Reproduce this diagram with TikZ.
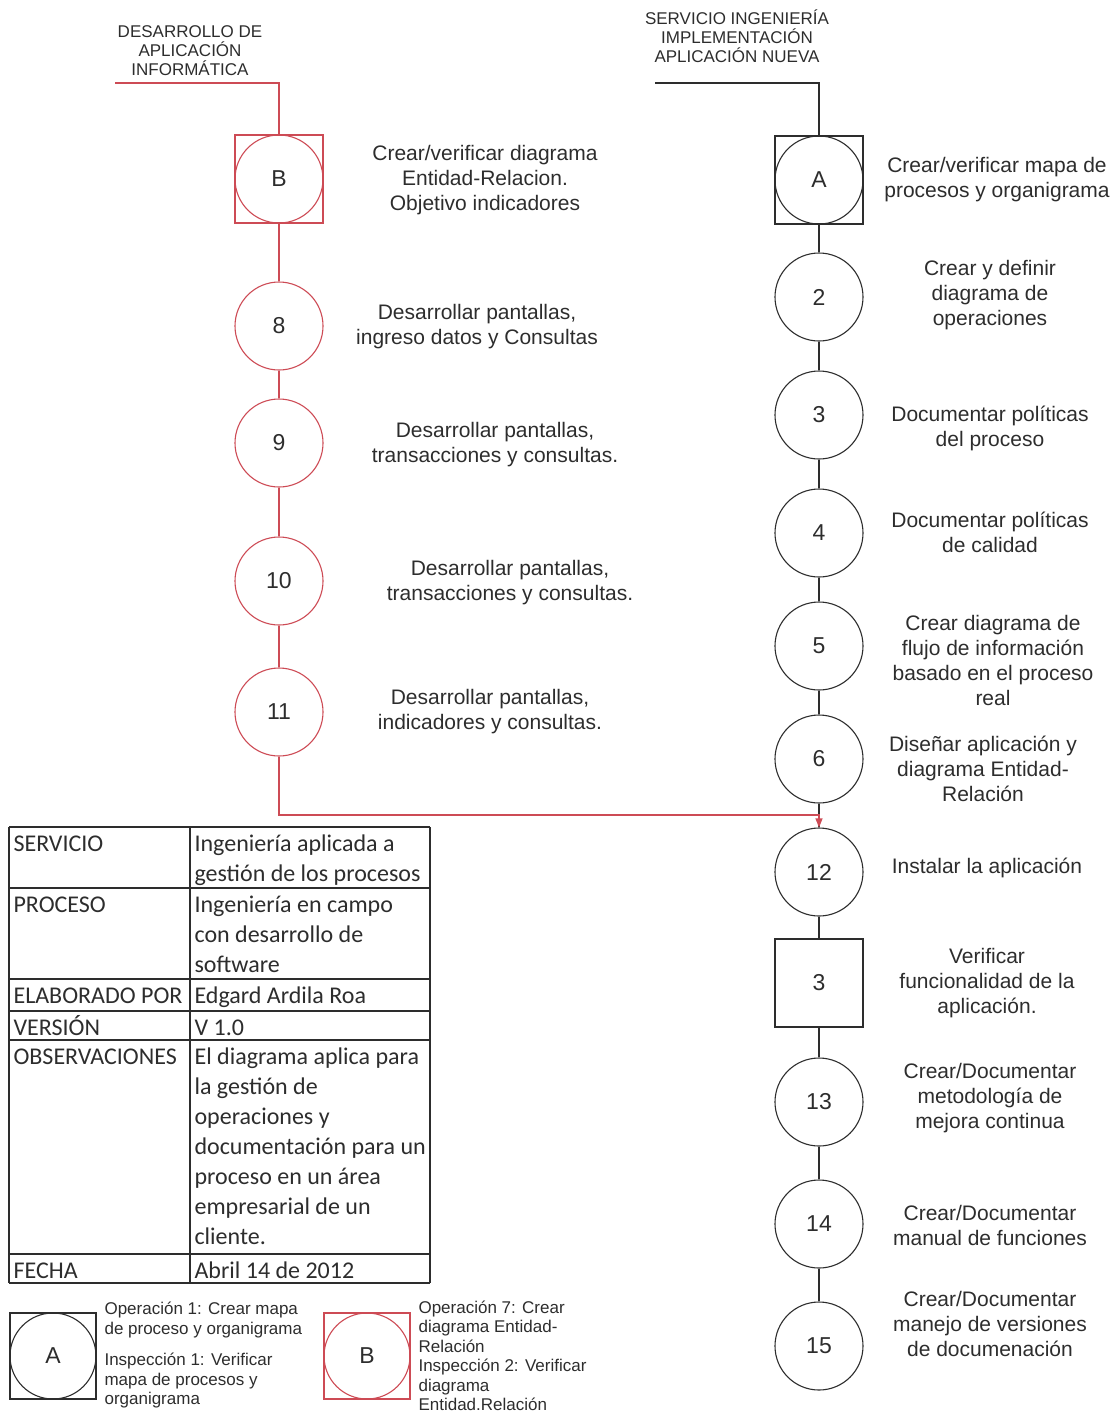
\documentclass[tikz,border=0pt]{standalone}
\usepackage{fontspec}
\setmainfont{Liberation Sans}
\newfontfamily\tablafont{Carlito}
\usetikzlibrary{arrows.meta, positioning}
\definecolor{LineaRoja}{RGB}{205,75,85}
\definecolor{LineaGris}{RGB}{45,45,45}

\begin{document}
\begin{tikzpicture}[x=1pt, y=-1pt, line width=1.1pt,
	oper/.style={circle, draw=#1, minimum size=88pt, inner sep=0pt,
		font=\fontsize{23}{26}\selectfont, text=LineaGris},
	insp/.style={rectangle, draw=#1, minimum size=88pt, inner sep=0pt,
		font=\fontsize{23}{26}\selectfont, text=LineaGris},
	texto/.style={align=center, font=\fontsize{21}{25}\selectfont, text=LineaGris},
	titulo/.style={align=center, font=\fontsize{17}{19}\selectfont, text=LineaGris},
	nota/.style={align=left, anchor=west, inner sep=0pt,
		font=\fontsize{17}{19.5}\selectfont, text=LineaGris},
	celda/.style={align=left, anchor=north west, inner xsep=3pt, inner ysep=0pt,
		font=\tablafont\fontsize{24}{30}\selectfont, text=LineaGris}]
	\useasboundingbox (0,0) rectangle (1114,1414);

	% columna izquierda: desarrollo de la aplicacion
	\node[titulo] (tit-izq) at (190,51) {DESARROLLO DE\\APLICACIÓN\\INFORMÁTICA};
	\coordinate (ini-izq) at (115,83);
	\node[insp=LineaRoja] (cuadB) at (279,179) {};
	\node[oper=LineaRoja] (B) at (279,179) {B};
	\foreach \n/\y in {8/326, 9/443, 10/581, 11/712}
		\node[oper=LineaRoja] (op\n) at (279,\y) {\n};
	\draw[LineaRoja] (ini-izq) -| (cuadB.north);
	\draw[LineaRoja] (cuadB) -- (op8) -- (op9) -- (op10) -- (op11);

	\node[texto] (txtB) at (485,180) {Crear/verificar diagrama\\Entidad-Relacion.\\Objetivo indicadores};
	\node[texto] (txt8) at (477,327) {Desarrollar pantallas,\\ingreso datos y Consultas};
	\node[texto] (txt9) at (495,445) {Desarrollar pantallas,\\transacciones y consultas.};
	\node[texto] (txt10) at (510,583) {Desarrollar pantallas,\\transacciones y consultas.};
	\node[texto] (txt11) at (490,712) {Desarrollar pantallas,\\indicadores y consultas.};

	% columna derecha: servicio de ingenieria
	\node[titulo] (tit-der) at (737,36) {SERVICIO INGENIERÍA\\IMPLEMENTACIÓN\\APLICACIÓN NUEVA};
	\coordinate (ini-der) at (655,83);
	\node[insp=LineaGris] (cuadA) at (819,180) {};
	\node[oper=LineaGris] (A) at (819,180) {A};
	\foreach \n/\y in {2/297, 3/415, 4/533, 5/646, 6/759, 12/872, 13/1102, 14/1224, 15/1346}
		\node[oper=LineaGris] (op\n) at (819,\y) {\n};
	\node[insp=LineaGris] (insp3) at (819,983) {3};
	\draw[LineaGris] (ini-der) -| (cuadA.north);
	\draw[LineaGris] (cuadA) -- (op2) -- (op3) -- (op4) -- (op5) -- (op6) -- (op12)
		-- (insp3) -- (op13) -- (op14) -- (op15);

	\node[texto] (txtA) at (997,180) {Crear/verificar mapa de\\procesos y organigrama};
	\node[texto] (txt2) at (990,295) {Crear y definir\\diagrama de\\operaciones};
	\node[texto] (txt3) at (990,428) {Documentar políticas\\del proceso};
	\node[texto] (txt4) at (990,532) {Documentar políticas\\de calidad};
	\node[texto] (txt5) at (993,660) {Crear diagrama de\\flujo de información\\basado en el proceso\\real};
	\node[texto] (txt6) at (983,769) {Diseñar aplicación y\\diagrama Entidad-\\Relación};
	\node[texto] (txt12) at (987,868) {Instalar la aplicación};
	\node[texto] (txti3) at (987,983) {Verificar\\funcionalidad de la\\aplicación.};
	\node[texto] (txt13) at (990,1098) {Crear/Documentar\\metodología de\\mejora continua};
	\node[texto] (txt14) at (990,1225) {Crear/Documentar\\manual de funciones};
	\node[texto] (txt15) at (990,1324) {Crear/Documentar\\manejo de versiones\\de documenación};

	% union de las dos columnas
	\coordinate (codo) at (819,815);
	\draw[LineaRoja, -{Triangle[length=9pt, width=7pt]}] (op11) |- (codo) -- (op12);

	% tabla de datos
	\foreach \y in {827, 888, 979, 1011, 1040, 1254, 1283}
		\draw[LineaGris, line width=1.3pt] (9,\y) -- (430,\y);
	\foreach \x in {9, 190, 430}
		\draw[LineaGris, line width=1.3pt] (\x,827) -- (\x,1283);
	\foreach \y/\etiq/\valor in {
			827/SERVICIO/{Ingeniería aplicada a\\gestión de los procesos},
			888/PROCESO/{Ingeniería en campo\\con desarrollo de\\software},
			979/ELABORADO POR/{Edgard Ardila Roa},
			1011/VERSIÓN/{V 1.0},
			1040/OBSERVACIONES/{El diagrama aplica para\\la gestión de\\operaciones y\\documentación para un\\proceso en un área\\empresarial de un\\cliente.},
			1254/FECHA/{Abril 14 de 2012}} {
		\node[celda] (etq-\y) at (10,\y+3) {\strut\etiq};
		\node[celda] (val-\y) at (191,\y+3) {\strut\valor};
	}

	% leyenda
	\node[insp=LineaGris, minimum size=86pt] (leyA-c) at (53,1356) {};
	\node[oper=LineaGris, minimum size=86pt] (leyA) at (53,1356) {A};
	\node[nota] (notaA) at (104,1355) {Operación 1: Crear mapa\\de proceso y organigrama\\[12pt]Inspección 1: Verificar\\mapa de procesos y\\organigrama};
	\node[insp=LineaRoja, minimum size=86pt] (leyB-c) at (367,1356) {};
	\node[oper=LineaRoja, minimum size=86pt] (leyB) at (367,1356) {B};
	\node[nota] (notaB) at (418,1356) {Operación 7: Crear\\diagrama Entidad-\\Relación\\Inspección 2: Verificar\\diagrama\\Entidad.Relación};
\end{tikzpicture}
\end{document}
